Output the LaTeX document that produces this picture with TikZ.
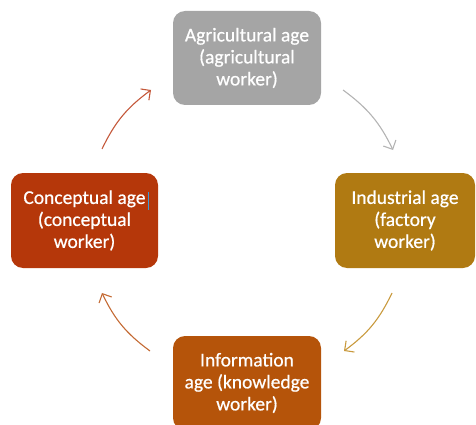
\documentclass[tikz,border=0pt]{standalone}
\usepackage{fontspec}
\setmainfont[FakeBold=0.6]{Carlito}
\usetikzlibrary{arrows.meta}
\definecolor{cgray}{HTML}{A5A5A5}
\definecolor{cind}{HTML}{B07A12}
\definecolor{cinfo}{HTML}{B5540A}
\definecolor{ccon}{HTML}{B5370A}
\definecolor{agray}{HTML}{B4B4B4}
\definecolor{aind}{HTML}{C99A3E}
\definecolor{ainfo}{HTML}{C46A34}
\definecolor{acon}{HTML}{C4583A}
\definecolor{cursorblue}{HTML}{3A9AD9}
\tikzset{
  agebox/.style={rectangle, rounded corners=12pt, draw=none, text=white,
    align=center, font=\fontsize{19.5}{22}\selectfont, inner sep=0pt},
  cyc/.style={line width=1.1pt, -{Straight Barb[length=7pt,width=14pt,line width=1.1pt]}}
}
\begin{document}
\begin{tikzpicture}[x=1pt,y=-1pt]
\useasboundingbox (0,0) rectangle (476,425);
\begin{scope}
\clip (0,0) rectangle (476,425);
\node[agebox, fill=cgray, minimum width=148pt, minimum height=94pt] (agri) at (247,58)
  {Agricultural age\\(agricultural\\worker)};
\node[agebox, fill=cind, minimum width=140pt, minimum height=95pt] (ind) at (405,220.5)
  {Industrial age\\(factory\\worker)};
\node[agebox, fill=cinfo, minimum width=148pt, minimum height=94pt] (info) at (247,383)
  {Information\\age (knowledge\\worker)};
\node[agebox, fill=ccon, minimum width=147pt, minimum height=95pt] (con) at (84.5,220.5)
  {Conceptual age\\(conceptual\\worker)};
\end{scope}
\coordinate (c1) at (148,192);
\coordinate (c2) at (148,210);
\draw[cursorblue, line width=0.8pt] (c1) -- (c2);
\coordinate (tlA) at (102,149);
\coordinate (tlB) at (151,90);
\coordinate (trA) at (343,90);
\coordinate (trB) at (393,150);
\coordinate (brA) at (392,293);
\coordinate (brB) at (344,351);
\coordinate (blA) at (150,351);
\coordinate (blB) at (102,293);
\draw[cyc, acon] (tlA) to[bend left=14] (tlB);
\draw[cyc, agray] (trA) to[bend left=14] (trB);
\draw[cyc, aind] (brA) to[bend left=14] (brB);
\draw[cyc, ainfo] (blA) to[bend left=14] (blB);
\end{tikzpicture}
\end{document}
